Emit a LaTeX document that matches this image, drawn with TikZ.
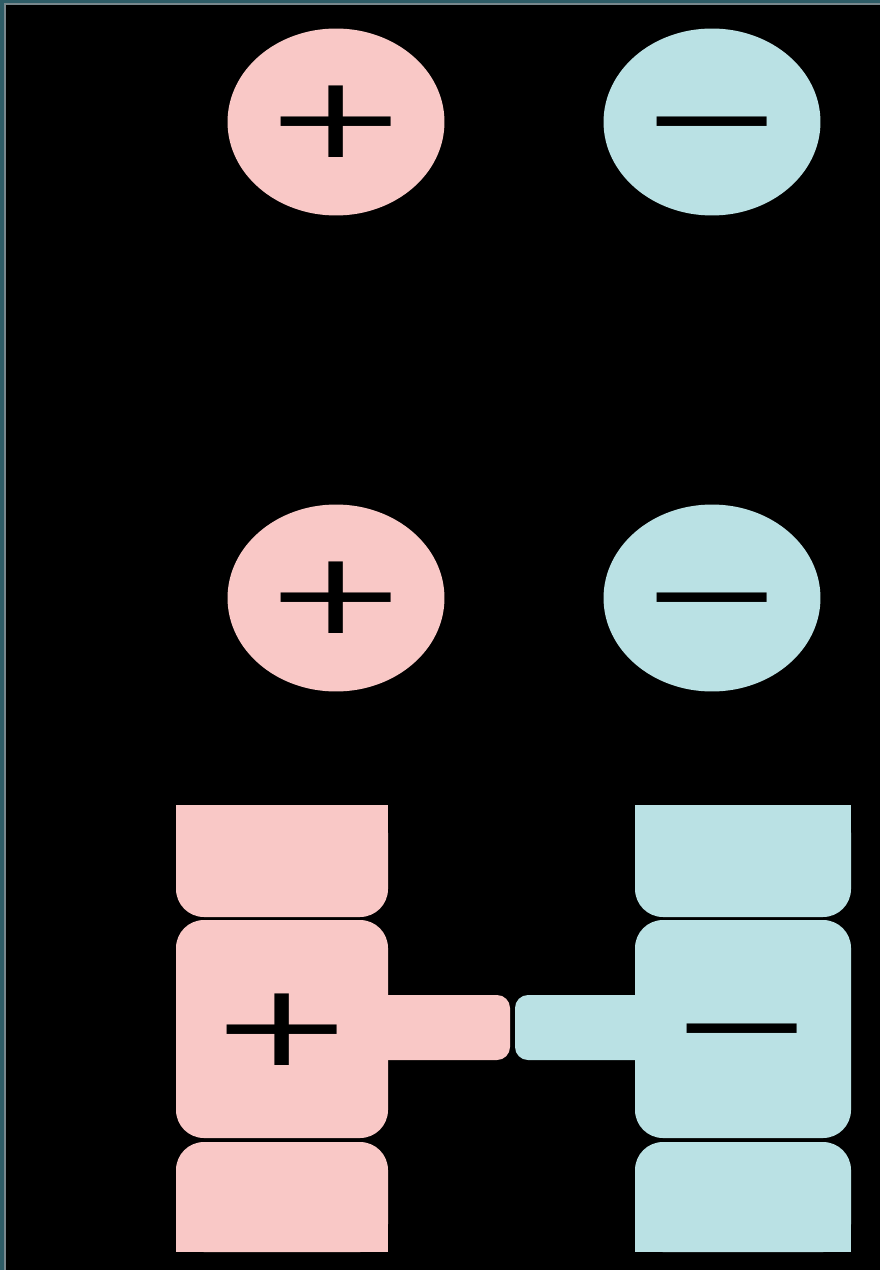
\documentclass[tikz,border=0pt]{standalone}
\usepackage{fontspec}
\newfontfamily\signfont{DejaVu Sans}
\usetikzlibrary{shapes.geometric}
\definecolor{pinkc}{RGB}{249,200,198}
\definecolor{bluec}{RGB}{186,225,228}
\definecolor{framec}{RGB}{46,92,102}
\definecolor{frameg}{RGB}{120,135,140}
\tikzset{
  ball/.style={ellipse, minimum width=4.34cm, minimum height=3.74cm, inner sep=0pt},
  sign/.style={inner sep=0pt, text=black, font=\signfont\fontsize{100}{100}\selectfont},
  blockr/.style={rounded corners=0.56cm},
  tabr/.style={rounded corners=0.26cm}
}
\newcommand{\sqsign}[1]{\scalebox{1}[0.65]{#1\vphantom{+}}}
\begin{document}
\begin{tikzpicture}[x=0.02cm,y=-0.02cm]
\useasboundingbox (0,0) rectangle (880,1270);
\fill[black] (0,0) rectangle (880,1270);
\fill[frameg] (0,0) rectangle (6,1270);
\fill[frameg] (0,0) rectangle (880,5);
\fill[framec] (0,0) rectangle (4,1270);
\fill[framec] (0,0) rectangle (880,3.5);

% top pair
\node[ball, fill=pinkc] (p1) at (336,122) {};
\node[sign] (p1s) at (p1.center) {\sqsign{+}};
\node[ball, fill=bluec] (n1) at (712,122) {};
\node[sign] (n1s) at (n1.center) {\sqsign{−}};

% middle pair
\node[ball, fill=pinkc] (p2) at (336,598) {};
\node[sign] (p2s) at (p2.center) {\sqsign{+}};
\node[ball, fill=bluec] (n2) at (712,598) {};
\node[sign] (n2s) at (n2.center) {\sqsign{−}};

% pink column
\fill[pinkc, blockr] (176,805) rectangle (388,917);
\fill[pinkc] (176,805) rectangle (388,860);
\fill[pinkc, blockr] (176,920) rectangle (388,1138);
\fill[pinkc, blockr] (176,1142) rectangle (388,1252);
\fill[pinkc] (176,1200) rectangle (388,1252);
\fill[pinkc, tabr] (360,995) rectangle (510,1060);
\fill[pinkc] (360,995) rectangle (450,1060);
\node[sign] (p3s) at (282,1030) {\sqsign{+}};

% blue column
\fill[bluec, blockr] (635,805) rectangle (851,917);
\fill[bluec] (635,805) rectangle (851,860);
\fill[bluec, blockr] (635,920) rectangle (851,1138);
\fill[bluec, blockr] (635,1142) rectangle (851,1252);
\fill[bluec] (635,1200) rectangle (851,1252);
\fill[bluec, tabr] (515,995) rectangle (665,1060);
\fill[bluec] (580,995) rectangle (665,1060);
\node[sign] (n3s) at (742,1029) {\sqsign{−}};
\end{tikzpicture}
\end{document}
